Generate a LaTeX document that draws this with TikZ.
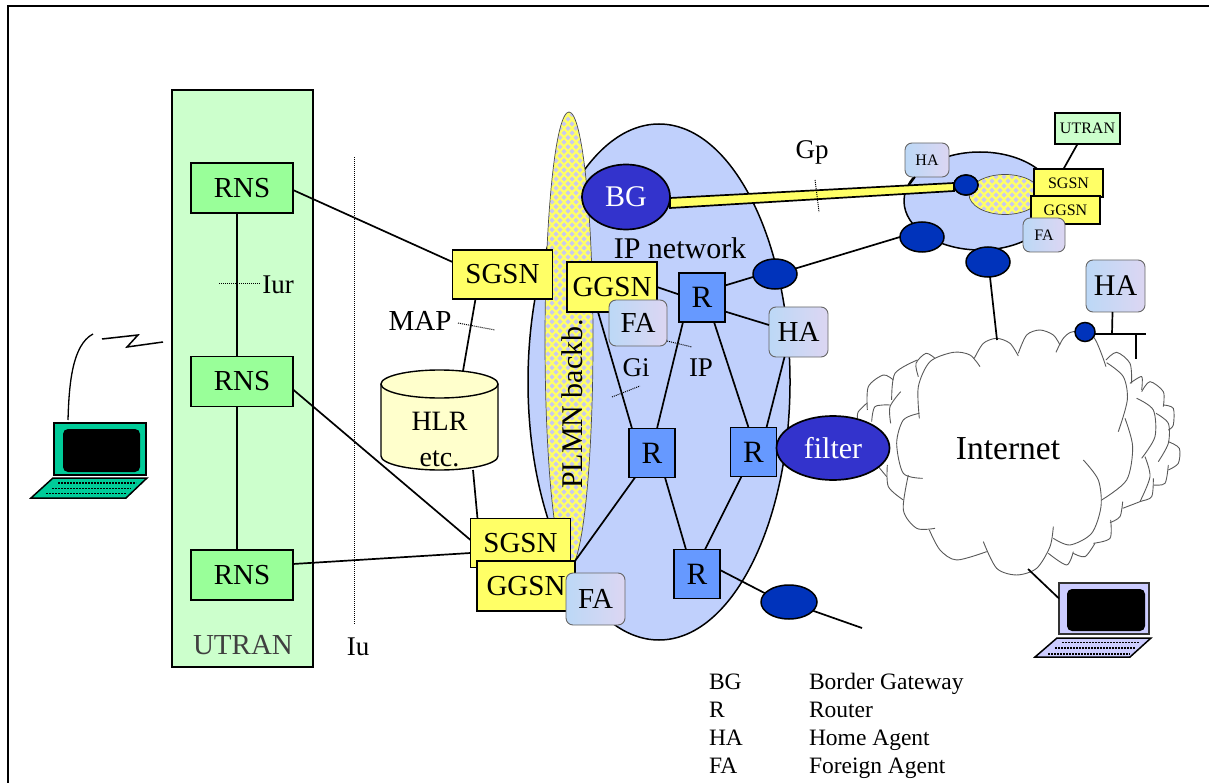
\documentclass[tikz,border=0pt]{standalone}
\usepackage{fontspec}
\setmainfont{Liberation Serif}
\usetikzlibrary{shapes.geometric}
\definecolor{utrang}{HTML}{CCFFCC}
\definecolor{rnsg}{HTML}{99FF99}
\definecolor{yel}{HTML}{FFFF66}
\definecolor{ipb}{HTML}{C0D0FC}
\definecolor{rb}{HTML}{6699FF}
\definecolor{bgb}{HTML}{3333CC}
\definecolor{dotb}{HTML}{0033BB}
\definecolor{lav}{HTML}{C8C8F0}
\definecolor{hlrc}{HTML}{FFFFCC}
\definecolor{lapg}{HTML}{00CC99}
\definecolor{lapb}{HTML}{CCCCFF}
\definecolor{agA}{HTML}{BCD8F6}
\definecolor{agB}{HTML}{DCD6F2}
\newcommand{\fsz}[1]{\fontsize{#1}{#1}\selectfont}
\newcommand{\lobe}[1]{\draw[cl] plot[smooth] coordinates {#1};}
\newcommand{\checkerfill}[4]{%
  \fill[yel] (#1,#3) rectangle (#2,#4);
  \foreach \i in {0,...,10} {
    \foreach \j in {0,...,105} {
      \pgfmathsetmacro{\cx}{#1+\i*8+mod(\j,2)*4}
      \pgfmathsetmacro{\cy}{#3+\j*4.6}
      \ifdim\cy pt<#4pt
      \fill[lav] (\cx-2.5,\cy) -- (\cx,\cy-2.5) -- (\cx+2.5,\cy) -- (\cx,\cy+2.5) -- cycle;
      \fi
    }}}
\tikzset{
  x=1pt,y=-1pt,
  every node/.style={inner sep=0pt,outer sep=0pt,font=\fsz{29}},
  conn/.style={draw=black,line width=1.7pt},
  leader/.style={draw=black,line width=1pt,densely dotted},
  rbox/.style={draw=black,line width=1.9pt,rectangle},
  rnsbox/.style={rbox,fill=rnsg,minimum width=102pt,minimum height=50pt},
  ybox/.style={rbox,fill=yel,minimum width=100pt,minimum height=49pt},
  ysmall/.style={rbox,fill=yel,minimum width=69pt,minimum height=28pt,font=\fsz{16}},
  router/.style={rbox,fill=rb,minimum width=46pt,minimum height=49pt,font=\fsz{31}},
  agent/.style={rectangle,rounded corners=7pt,draw=gray!80!black,line width=0.9pt,left color=agA,right color=agB},
  net/.style={ellipse,draw=black,line width=1.5pt,fill=ipb},
  blue/.style={ellipse,draw=black,line width=1.7pt,fill=bgb,text=white,font=\fsz{30}},
  dark/.style={ellipse,draw=black,line width=1.5pt,fill=dotb},
  cl/.style={draw=gray!70!black,line width=0.9pt},
  lap/.style={draw=black,line width=1.5pt},
  legend/.style={anchor=base west,font=\fsz{23.5}},
}
\begin{document}
\begin{tikzpicture}
\useasboundingbox (0,0) rectangle (1209,783);
% frame
\coordinate (tl) at (7.5,6.5); \coordinate (tr) at (1209,6.5); \coordinate (bl) at (7.5,783);
\draw[line width=2pt] (bl) -- (tl) -- (tr);
% UTRAN
\node[rectangle,draw=black,line width=1.4pt,fill=utrang,minimum width=141pt,minimum height=577pt] (utran) at (242.5,378.5) {};
\node[text=black!75] (utranl) at (243,645) {UTRAN};
\node[rnsbox] (rns1) at (242,188) {RNS};
\node[rnsbox] (rns2) at (242,381.5) {RNS};
\node[rnsbox] (rns3) at (242,575) {RNS};
\node (iur) at (278,285) {\fsz{27}Iur};
\coordinate (iura) at (219,284); \coordinate (iurb) at (260,284);
\draw[leader] (iura) -- (iurb);
% Iu
\coordinate (iua) at (354,157); \coordinate (iub) at (354,625);
\draw[leader] (iua) -- (iub);
\node (iu) at (358,647) {\fsz{27}Iu};
% IP network
\node[net,minimum width=262pt,minimum height=516pt] (ipnet) at (659,382) {};
% PLMN backbone
\begin{scope}
  \clip (569,340) ellipse [x radius=24,y radius=228];
  \checkerfill{544}{596}{110}{575}
\end{scope}
\draw[draw=gray!60!black,line width=0.7pt] (569,340) ellipse [x radius=24,y radius=228];
\node[rotate=90] (plmn) at (572,404) {\fsz{30}PLMN backb.};
% small network
\node[net,minimum width=152pt,minimum height=98pt] (smallnet) at (980,201) {};
\begin{scope}
  \clip (1005,194.5) ellipse [x radius=36,y radius=20];
  \checkerfill{968}{1044}{172}{218}
\end{scope}
\draw[draw=gray!60!black,line width=0.7pt] (1005,194.5) ellipse [x radius=36,y radius=20];
% cloud
\begin{scope}[shift={(840,320)},x=0.3333pt,y=-0.3333pt]
  \lobe{(82,270)(85,200)(130,165)(160,180)}
  \lobe{(235,170)(228,130)(258,100)(285,115)}
  \lobe{(155,240)(165,160)(232,120)}
  \lobe{(152,310)(150,260)(182,215)}
  \lobe{(95,305)(105,260)(150,255)}
  \lobe{(80,250)(55,275)(52,295)}
  \lobe{(115,440)(140,470)}
  \lobe{(142,435)(145,500)(190,540)}
  \lobe{(798,120)(830,97)(870,130)(875,190)}
  \lobe{(870,190)(905,170)(905,210)}
  \lobe{(905,215)(930,185)(970,215)(970,260)}
  \lobe{(970,255)(1000,265)(1000,315)(985,330)}
  \lobe{(948,280)(985,310)(985,370)(955,425)}
  \lobe{(985,365)(1018,385)(1015,430)(985,450)}
  \lobe{(985,435)(975,490)(940,495)}
  \lobe{(890,235)(940,270)(945,350)(905,415)}
  \lobe{(915,410)(930,470)(900,545)}
  \lobe{(940,475)(935,530)(900,545)(848,565)}
  \lobe{(848,545)(840,590)(810,608)}
  \lobe{(812,600)(810,655)(760,670)}
  \lobe{(765,670)(735,710)(700,700)}
  \lobe{(700,695)(680,735)(625,700)}
  \fill[white] (470,55)--(535,100)--(600,32)--(655,90)--(700,38)--(770,70)--(798,130)--(860,220)--(855,300)--(878,390)--(785,540)--(780,600)--(690,675)--(635,660)--(590,745)--(530,765)--(470,745)--(435,690)--(350,720)--(268,630)--(190,560)--(205,465)--(172,370)--(238,290)--(240,190)--(340,97)--(405,120)--cycle;
  \lobe{(238,295)(235,200)(270,125)(340,97)(390,105)(420,140)}
  \lobe{(403,115)(430,70)(470,55)(510,70)(535,108)}
  \lobe{(535,100)(560,45)(600,30)(640,45)(660,75)}
  \lobe{(648,97)(670,55)(700,35)(760,50)(798,140)}
  \lobe{(800,128)(850,170)(862,240)(835,335)}
  \lobe{(855,295)(878,380)(860,480)(785,540)}
  \lobe{(730,420)(775,480)(783,560)(755,640)(690,675)(640,655)}
  \lobe{(640,620)(630,680)(590,745)(530,765)(470,745)(430,665)}
  \lobe{(440,695)(350,720)(300,690)(268,630)}
  \lobe{(285,625)(230,625)(190,570)(205,465)}
  \lobe{(248,475)(190,460)(170,370)(190,300)(238,280)}
\end{scope}
\node (internet) at (1008,449) {\fsz{33.5}Internet};
% HLR
\fill[hlrc] (381,384) -- (381,456) arc[start angle=180,end angle=0,x radius=58.5,y radius=14] -- (498,384) -- cycle;
\fill[hlrc] (439.5,384) ellipse [x radius=58.5,y radius=14];
\draw[line width=1.4pt] (381,384) -- (381,456) arc[start angle=180,end angle=0,x radius=58.5,y radius=14] -- (498,384);
\draw[line width=1.4pt] (439.5,384) ellipse [x radius=58.5,y radius=14];
\coordinate (hlrtop) at (463,371); \coordinate (hlrbot) at (473,470);
\node[align=center,font=\fsz{28},text width=100pt] (hlr) at (439.5,440) {HLR\\[8pt]etc.};
% yellow nodes
\node[ybox] (sgsn1) at (502.5,274.5) {SGSN};
\node[ybox] (sgsn2) at (520.5,543) {SGSN};
\node[ybox,minimum width=98pt,minimum height=50pt] (ggsn2) at (526,586) {GGSN};
\node[ybox,minimum width=90pt,minimum height=50pt] (ggsn1) at (612,287) {GGSN};
\node[agent,minimum width=59pt,minimum height=52pt] (fa2) at (595.5,599) {FA};
\node[agent,minimum width=58pt,minimum height=46pt] (fa1) at (638,323) {FA};
\node[agent,minimum width=59pt,minimum height=50pt] (ha1) at (798.5,332) {HA};
% routers
\node[router] (r1) at (702,297.5) {R};
\node[router] (r2) at (652,453) {R};
\node[router] (r3) at (753.5,452) {R};
\node[router] (r4) at (697,574) {R};
% ellipses
\node[blue,minimum width=88pt,minimum height=65pt] (bg) at (626,197) {BG};
\node[blue,minimum width=113pt,minimum height=64pt] (filter) at (833,448) {filter};
\node[dark,minimum width=44pt,minimum height=30pt] (e1) at (775,274) {};
\node[dark,minimum width=44pt,minimum height=30pt] (e2) at (922,237) {};
\node[dark,minimum width=44pt,minimum height=30pt] (e3) at (988,262) {};
\node[dark,minimum width=56pt,minimum height=34pt] (e4) at (789,602) {};
\node[dark,minimum width=24pt,minimum height=20pt] (gpdot) at (966,185) {};
\node[dark,minimum width=20pt,minimum height=19pt] (hadot) at (1085,332) {};
% Gp link
\filldraw[fill=yel,draw=black,line width=1.7pt] ([yshift=-1pt]bg.east) -- ([yshift=2pt]gpdot.west) -- ([yshift=-6pt]gpdot.west) -- ([yshift=-11pt]bg.east) -- cycle;
\node[dark,minimum width=24pt,minimum height=20pt] at (966,185) {};
\node (gp) at (812,152) {\fsz{27}Gp};
\coordinate (gpa) at (815,180); \coordinate (gpb) at (819,212);
\draw[leader] (gpa) -- (gpb);
% text labels
\node (ipnetl) at (680,248) {\fsz{30}IP network};
\node (map) at (420,321) {MAP};
\coordinate (mapa) at (458,323); \coordinate (mapb) at (495,330);
\draw[leader] (mapa) -- (mapb);
\node (gi) at (636,368) {\fsz{27}Gi};
\node (ipl) at (701,368) {\fsz{27}IP};
\coordinate (ipa) at (667,341); \coordinate (ipb) at (692,347);
\coordinate (gia) at (612,397); \coordinate (gib) at (640,386);
\draw[leader] (ipa) -- (ipb);
\draw[leader] (gia) -- (gib);
% small nodes
\node[agent,minimum width=44pt,minimum height=34pt,font=\fsz{16}] (ha3) at (927,160) {HA};
\node[rbox,fill=utrang,minimum width=65pt,minimum height=31pt,font=\fsz{16}] (utran2) at (1087.5,128.5) {UTRAN};
\node[ysmall] (sgsn3) at (1068.5,183) {SGSN};
\node[ysmall] (ggsn3) at (1065.5,210) {GGSN};
\node[agent,minimum width=42pt,minimum height=34pt,font=\fsz{16}] (fa3) at (1044,235) {FA};
\node[agent,minimum width=59pt,minimum height=52pt,font=\fsz{30}] (ha2) at (1115.5,286) {HA};
% connectors
\draw[conn] ([yshift=-2pt]rns1.east) -- ([yshift=12.5pt]sgsn1.west);
\draw[conn] ([xshift=-5pt]rns1.south) -- ([xshift=-5pt]rns2.north);
\draw[conn] ([xshift=-5pt]rns2.south) -- ([xshift=-5pt]rns3.north);
\draw[conn] ([yshift=-8pt]rns2.east) -- ([yshift=3pt]sgsn2.west);
\draw[conn] ([yshift=11pt]rns3.east) -- ([yshift=-10pt]sgsn2.west);
\draw[conn] ([xshift=-27pt]sgsn1.south) -- (hlrtop);
\draw[conn] (hlrbot) -- ([xshift=-43pt]sgsn2.north);
\draw[conn] (ggsn1.east) -- ([yshift=3pt]r1.west);
\draw[conn] ([yshift=12pt]r1.east) -- ([yshift=-3pt]e1.west);
\draw[conn] ([yshift=-14pt]r1.east) -- ([yshift=7pt]ha1.west);
\draw[conn] (e1.15) -- (e2.west);
\coordinate (cloudt) at (997,340);
\draw[conn] ([xshift=2pt]e3.south) -- (cloudt);
\draw[conn] ([xshift=-14pt]ggsn1.south) -- ([xshift=-20pt]r2.north);
\draw[conn] ([xshift=-19pt]r1.south) -- ([xshift=5pt]r2.north);
\draw[conn] ([xshift=12pt]r1.south) -- ([xshift=-5pt]r3.north);
\draw[conn] ([xshift=-14pt]ha1.south) -- ([xshift=13pt]r3.north);
\draw[conn] ([xshift=13pt]r2.south) -- ([xshift=-11pt]r4.north);
\draw[conn] ([xshift=-12pt]r3.south) -- ([xshift=8pt]r4.north);
\draw[conn] ([xshift=-17pt]r2.south) -- (ggsn2.north east);
\draw[conn] ([yshift=4pt]r4.east) -- (e4.160);
\coordinate (e4end) at (862,628);
\draw[conn] (e4.-20) -- (e4end);
\coordinate (snet) at (909,185);
\draw[conn] ([xshift=-12pt]ha3.south) -- (snet);
\draw[conn] ([xshift=-10pt]utran2.south) -- ([xshift=-5pt]sgsn3.north);
\coordinate (bus1) at (1146,334); \coordinate (busa) at (1112,334); \coordinate (busb) at (1136,334); \coordinate (busc) at (1136,359);
\draw[conn] ([yshift=-2pt]hadot.east) -- (bus1);
\draw[conn] ([xshift=-3pt]ha2.south) -- (busa);
\draw[conn] (busb) -- (busc);
% laptop 1
\node[rectangle,draw=black,line width=1.5pt,fill=lapg,minimum width=92pt,minimum height=52pt] (lap1) at (100,449) {};
\fill[black,rounded corners=5pt] (63,429) rectangle (140,472);
\filldraw[lap,fill=lapg] (31,498) -- (53,478) -- (147,478) -- (126,498) -- cycle;
\foreach \y/\a/\b in {483/58/136,488.5/52/131,493.5/46/126}
  \draw[line width=1.8pt,dash pattern=on 2pt off 1pt] (\a,\y) -- (\b,\y);
\coordinate (ant1) at (68,420); \coordinate (ant2) at (93,334);
\coordinate (z1) at (102,339); \coordinate (z2) at (138,335); \coordinate (z3) at (127,347); \coordinate (z4) at (163,342);
\draw[line width=1.3pt] (ant1) .. controls (69,385) and (72,345) .. (ant2);
\draw[line width=1.5pt] (z1) -- (z2) -- (z3) -- (z4);
% laptop 2
\node[rectangle,draw=black!80,line width=1.5pt,fill=lapb,minimum width=90pt,minimum height=51pt] (lap2) at (1104,608.5) {};
\fill[black,rounded corners=5pt] (1067,589) rectangle (1145,631);
\filldraw[lap,fill=lapb] (1035,657) -- (1057,638) -- (1151,638) -- (1130,657) -- cycle;
\foreach \y/\a/\b in {642.5/1062/1139,648/1055/1135,654/1048/1130}
  \draw[line width=1.8pt,dash pattern=on 2pt off 1pt] (\a,\y) -- (\b,\y);
\coordinate (cloudb) at (1028,569);
\draw[conn] (cloudb) -- ([yshift=10pt]lap2.west);
% legend
\node[legend] (l1a) at (709,689) {BG};
\node[legend] (l1b) at (809,689) {Border Gateway};
\node[legend] (l2a) at (709,717) {R};
\node[legend] (l2b) at (809,717) {Router};
\node[legend] (l3a) at (709,745) {HA};
\node[legend] (l3b) at (809,745) {Home Agent};
\node[legend] (l4a) at (709,773) {FA};
\node[legend] (l4b) at (809,773) {Foreign Agent};
\end{tikzpicture}
\end{document}
